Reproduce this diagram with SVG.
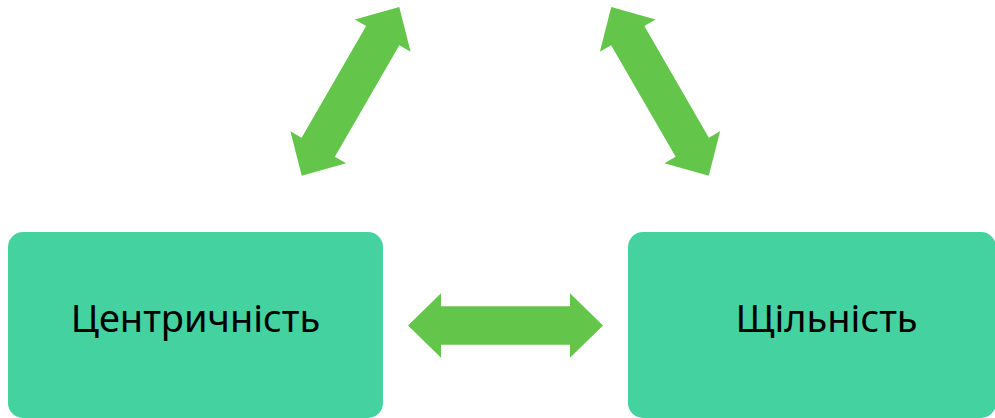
<svg xmlns="http://www.w3.org/2000/svg" width="995" height="418" viewBox="0 0 995 418">
<style>
.box{fill:#44D2A0;}
.lbl{font-family:"Noto Sans","DejaVu Sans",sans-serif;font-size:38px;fill:#000;text-anchor:middle;}
.arr{fill:#63C64B;}
</style>
<defs>
<path id="dbl" d="M -97.5 0 L -64.5 -32.2 L -64.5 -19.2 L 64.5 -19.2 L 64.5 -32.2 L 97.5 0 L 64.5 32.2 L 64.5 19.2 L -64.5 19.2 L -64.5 32.2 Z"/>
</defs>
<rect width="995" height="418" fill="#fff"/>
<g id="connectors">
<use href="#dbl" class="arr" transform="translate(350.5 91.4) rotate(-60)"/>
<use href="#dbl" class="arr" transform="translate(660 91.4) rotate(60)"/>
<use href="#dbl" class="arr" transform="translate(505.5 325.5)"/>
</g>
<g id="node-centrychnist">
<rect class="box" x="8" y="232" width="375" height="186" rx="15"/>
<text class="lbl" x="195.5" y="332">Центричність</text>
</g>
<g id="node-shchilnist">
<rect class="box" x="628" y="232" width="368" height="186" rx="15"/>
<text class="lbl" x="826.5" y="332">Щільність</text>
</g>
</svg>
